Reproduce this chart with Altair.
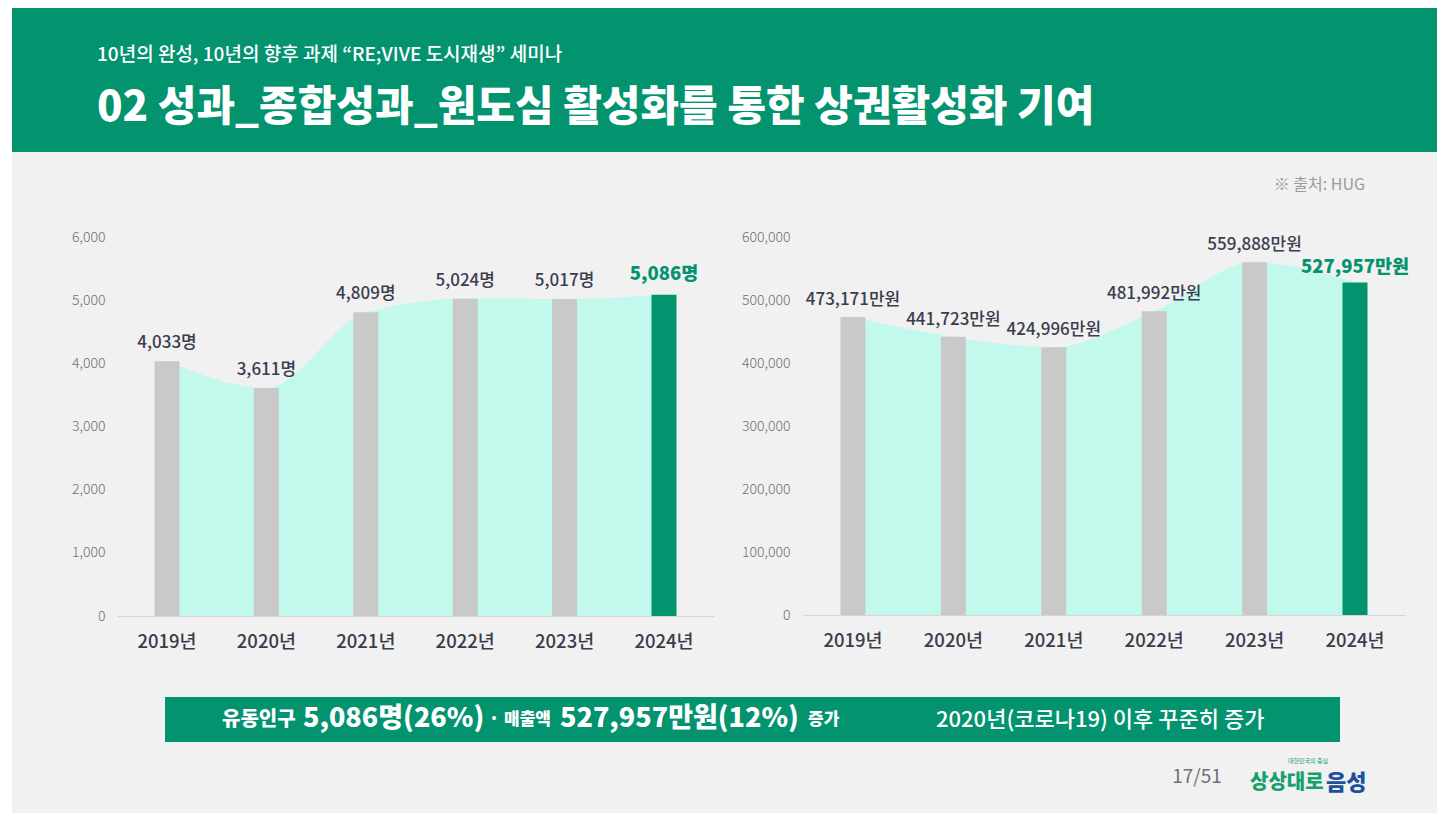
import altair as alt
import pandas as pd

# ---------------- data ----------------
years = ["2019년", "2020년", "2021년", "2022년", "2023년", "2024년"]
visitors = [4033, 3611, 4809, 5024, 5017, 5086]
visitor_labels = ["4,033명", "3,611명", "4,809명", "5,024명", "5,017명", "5,086명"]
sales = [473171, 441723, 424996, 481992, 559888, 527957]
sales_labels = ["473,171만원", "441,723만원", "424,996만원", "481,992만원", "559,888만원", "527,957만원"]
visitor_ticks = [0, 1000, 2000, 3000, 4000, 5000, 6000]
sales_ticks = [0, 100000, 200000, 300000, 400000, 500000, 600000]
latest_year = "2024년"

header_sub = "10년의 완성, 10년의 향후 과제 \u201cRE;VIVE 도시재생\u201d 세미나"
header_title = "02 성과_종합성과_원도심 활성화를 통한 상권활성화 기여"
source_text = "※ 출처: HUG"
banner_parts = ["유동인구", "5,086명(26%)", "·", "매출액", "527,957만원(12%)", "증가"]
banner_note = "2020년(코로나19) 이후 꾸준히 증가"
page_text = "17/51"

# ---------------- style ----------------
W, H = 1429, 805
FONT = "Noto Sans CJK KR"
GREEN = "#03936f"
MINT = "#c3f8ec"
GRAY = "#c9c9c9"
TXT = "#3b3d4f"
BG = "#f1f1f1"

one = pd.DataFrame({"k": [0]})


def deco_rect(x, x2, y, y2, color):
    return alt.Chart(one).mark_rect(color=color).encode(
        x=alt.value(x), x2=alt.value(x2), y=alt.value(y), y2=alt.value(y2)
    )


def deco_text(text, x, y, size, weight="normal", color="white", align="left", baseline="middle"):
    return alt.Chart(pd.DataFrame({"t": [text]})).mark_text(
        font=FONT, fontSize=size, fontWeight=weight, color=color, align=align, baseline=baseline
    ).encode(x=alt.value(x), y=alt.value(y), text="t:N")


def panel(values, labels, ticks, ymax, x_range, y_range, yaxis_x, xaxis_y, dy_norm, dy_hl):
    df = pd.DataFrame({"year": years, "value": values, "label": labels})

    def X(center):
        kw = dict(bandPosition=0.5) if center else {}
        return alt.X(
            "year:N",
            sort=years,
            scale=alt.Scale(domain=years, range=x_range, paddingInner=0, paddingOuter=0),
            axis=alt.Axis(
                orient="bottom", offset=xaxis_y - H, title=None, labelAngle=0, ticks=False,
                domainColor="#d6d6d6", domainWidth=1, labelFont=FONT, labelFontSize=18.5,
                labelFontWeight=500, labelColor="#3a3c4c", labelPadding=16, grid=False,
                zindex=1,
            ),
            **kw,
        )

    Y = alt.Y(
        "value:Q",
        scale=alt.Scale(domain=[0, ymax], range=y_range, nice=False, zero=True),
        axis=alt.Axis(
            orient="left", offset=-yaxis_x, values=ticks, format=",.0f", title=None, grid=False,
            domain=False, ticks=False, labelFont=FONT, labelFontSize=14, labelFontWeight=300,
            labelColor="#707070", labelPadding=10, zindex=1,
        ),
    )
    base = alt.Chart(df)
    area = base.mark_area(interpolate="monotone", color=MINT, opacity=1).encode(x=X(True), y=Y)
    bars = base.mark_bar(size=25).encode(
        x=X(False), y=Y,
        color=alt.condition(alt.datum.year == latest_year, alt.value(GREEN), alt.value(GRAY)),
    )
    txt = base.transform_filter(alt.datum.year != latest_year).mark_text(
        font=FONT, fontSize=17, fontWeight=500, color=TXT, baseline="alphabetic", dy=dy_norm
    ).encode(x=X(True), y=Y, text="label:N")
    txt_hl = base.transform_filter(alt.datum.year == latest_year).mark_text(
        font=FONT, fontSize=18.5, fontWeight=800, color=GREEN, baseline="alphabetic", dy=dy_hl
    ).encode(x=X(True), y=Y, text="label:N")
    return alt.layer(area, bars, txt, txt_hl)


left = panel(visitors, visitor_labels, visitor_ticks, 6000,
             [109.3, 705.7], [608, 229], 107, 608, -13, -15)
right = panel(sales, sales_labels, sales_ticks, 600000,
              [794.8, 1397.2], [607, 229], 792, 607, -12, -9)

layers = [
    deco_rect(4, W, 0, H, BG),
    deco_rect(4, W, 0, 144, GREEN),
    deco_text(header_sub, 89, 47, 19, 500),
    deco_text(header_title, 89, 100, 42, 900),
    deco_text(source_text, 1357, 177, 16, "normal", "#9a9a9a", align="right"),
    left,
    right,
    deco_rect(157, 1332, 689, 734, GREEN),
    deco_text(banner_parts[0], 214, 712, 20, 800),
    deco_text(banner_parts[1], 295, 711, 27, 800),
    deco_text(banner_parts[2], 486, 712, 18, 800, align="center"),
    deco_text(banner_parts[3], 496, 712, 17, 800),
    deco_text(banner_parts[4], 552, 711, 27, 800),
    deco_text(banner_parts[5], 800, 712, 17, 800),
    deco_text(banner_note, 928, 712, 22, 500),
    deco_text(page_text, 1189, 769, 19, "normal", "#707070", align="center"),
    deco_text("대한민국의 중심", 1300, 753, 6, "normal", "#1a9a6c", align="center"),
    deco_text("상상대로", 1242, 775, 20, 900, "#17a06e"),
    deco_text("음성", 1318, 775, 22, 900, "#1d4f9f"),
]

chart = alt.layer(*layers).resolve_scale(x="independent", y="independent").properties(
    width=W, height=H, padding=0, autosize=alt.AutoSizeParams(type="none"), background="white"
).configure_view(stroke=None)

chart.save("out.html", embed_options={"renderer": "svg", "actions": False})
